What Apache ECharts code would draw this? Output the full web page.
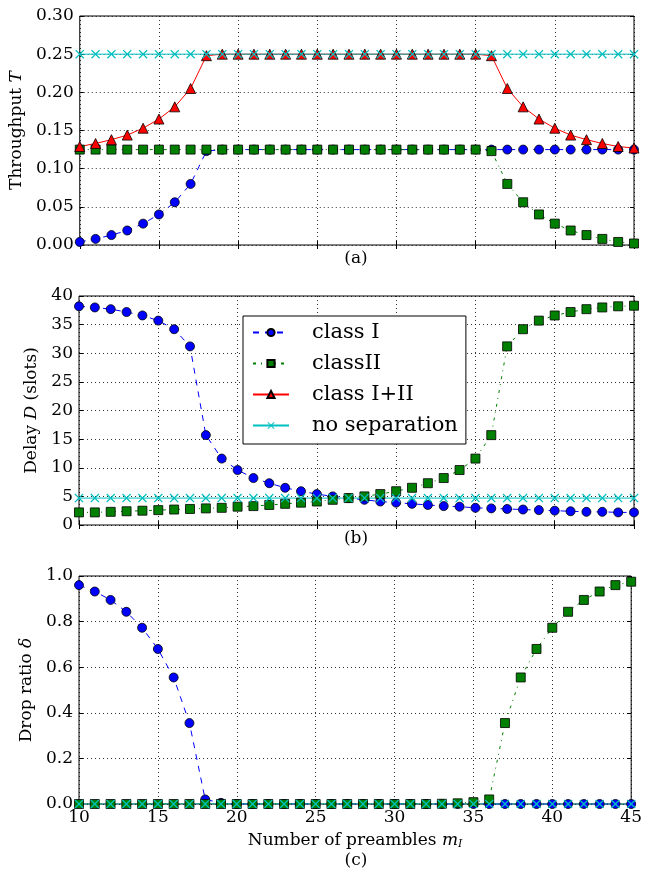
<!DOCTYPE html>
<html>
<head>
<meta charset="utf-8">
<script src="https://cdn.jsdelivr.net/npm/echarts@6/dist/echarts.min.js"></script>
<style>
  html, body { margin: 0; padding: 0; background: #fff; }
  #chart { width: 645px; height: 869px; }
</style>
</head>
<body>
<div id="chart"></div>
<script>
// number of preambles m_I
const preambles = [10, 11, 12, 13, 14, 15, 16, 17, 18, 19, 20, 21, 22, 23, 24, 25, 26, 27,
                   28, 29, 30, 31, 32, 33, 34, 35, 36, 37, 38, 39, 40, 41, 42, 43, 44, 45];

// (a) throughput
const thrClassI = [0.004, 0.008, 0.013, 0.019, 0.028, 0.040, 0.056, 0.080, 0.123, 0.125, 0.125, 0.125,
                   0.125, 0.125, 0.125, 0.125, 0.125, 0.125, 0.125, 0.125, 0.125, 0.125, 0.125, 0.125,
                   0.125, 0.125, 0.125, 0.125, 0.125, 0.125, 0.125, 0.125, 0.125, 0.125, 0.125, 0.125];
const thrClassII = [0.125, 0.125, 0.125, 0.125, 0.125, 0.125, 0.125, 0.125, 0.125, 0.125, 0.125, 0.125,
                    0.125, 0.125, 0.125, 0.125, 0.125, 0.125, 0.125, 0.125, 0.125, 0.125, 0.125, 0.125,
                    0.125, 0.125, 0.123, 0.080, 0.056, 0.040, 0.028, 0.019, 0.013, 0.008, 0.004, 0.002];
const thrClassBoth = [0.129, 0.133, 0.138, 0.144, 0.153, 0.165, 0.181, 0.205, 0.248, 0.250, 0.250, 0.250,
                      0.250, 0.250, 0.250, 0.250, 0.250, 0.250, 0.250, 0.250, 0.250, 0.250, 0.250, 0.250,
                      0.250, 0.250, 0.248, 0.205, 0.181, 0.165, 0.153, 0.144, 0.138, 0.133, 0.129, 0.127];
const thrNoSep = [0.25, 0.25, 0.25, 0.25, 0.25, 0.25, 0.25, 0.25, 0.25, 0.25, 0.25, 0.25,
                  0.25, 0.25, 0.25, 0.25, 0.25, 0.25, 0.25, 0.25, 0.25, 0.25, 0.25, 0.25,
                  0.25, 0.25, 0.25, 0.25, 0.25, 0.25, 0.25, 0.25, 0.25, 0.25, 0.25, 0.25];

// (b) delay in slots
const delClassI = [38.2, 38.0, 37.7, 37.2, 36.6, 35.7, 34.2, 31.2, 15.7, 11.6, 9.6, 8.2,
                   7.3, 6.5, 5.9, 5.4, 5.0, 4.7, 4.4, 4.1, 3.9, 3.7, 3.5, 3.3,
                   3.2, 3.0, 2.9, 2.8, 2.7, 2.6, 2.5, 2.4, 2.3, 2.3, 2.2, 2.2];
const delClassII = [2.2, 2.2, 2.3, 2.4, 2.5, 2.6, 2.7, 2.8, 2.9, 3.0, 3.2, 3.3,
                    3.5, 3.7, 3.9, 4.1, 4.4, 4.7, 5.0, 5.4, 5.9, 6.5, 7.3, 8.2,
                    9.6, 11.6, 15.7, 31.2, 34.2, 35.7, 36.6, 37.2, 37.7, 38.0, 38.2, 38.3];
const delNoSep = [4.7, 4.7, 4.7, 4.7, 4.7, 4.7, 4.7, 4.7, 4.7, 4.7, 4.7, 4.7,
                  4.7, 4.7, 4.7, 4.7, 4.7, 4.7, 4.7, 4.7, 4.7, 4.7, 4.7, 4.7,
                  4.7, 4.7, 4.7, 4.7, 4.7, 4.7, 4.7, 4.7, 4.7, 4.7, 4.7, 4.7];

// (c) drop ratio
const dropClassI = [0.960, 0.932, 0.895, 0.843, 0.773, 0.680, 0.555, 0.355, 0.020, 0.005, 0, 0,
                    0, 0, 0, 0, 0, 0, 0, 0, 0, 0, 0, 0,
                    0, 0, 0, 0, 0, 0, 0, 0, 0, 0, 0, 0];
const dropClassII = [0, 0, 0, 0, 0, 0, 0, 0, 0, 0, 0, 0,
                     0, 0, 0, 0, 0, 0, 0, 0, 0, 0, 0, 0.001,
                     0.003, 0.008, 0.020, 0.355, 0.555, 0.680, 0.773, 0.843, 0.895, 0.932, 0.960, 0.975];
const dropNoSep = [0, 0, 0, 0, 0, 0, 0, 0, 0, 0, 0, 0,
                   0, 0, 0, 0, 0, 0, 0, 0, 0, 0, 0, 0,
                   0, 0, 0, 0, 0, 0, 0, 0, 0, 0, 0, 0];

const yTicksA = [0, 0.30, 0.05];
const yTicksB = [0, 40, 5];
const yTicksC = [0, 1.0, 0.2];

const FONT = 'DejaVu Serif';
const FS = 17;
const BLUE = '#0000ff', GREEN = '#008000', RED = '#ff0000', CYAN = '#00bfbf';
const X_MARK = 'path://M0,1L1,0L5,4L9,0L10,1L6,5L10,9L9,10L5,6L1,10L0,9L4,5Z';

const pairs = arr => preambles.map((x, i) => [x, arr[i]]);

function classI(arr, idx) {
    return {
        name: 'class I', type: 'line', xAxisIndex: idx, yAxisIndex: idx,
        data: pairs(arr), symbol: 'circle', symbolSize: 9,
        itemStyle: { color: BLUE, borderColor: '#000', borderWidth: 0.8 },
        lineStyle: { color: BLUE, width: 1, type: [6, 6] }
    };
}
function classII(arr, idx) {
    return {
        name: 'classII', type: 'line', xAxisIndex: idx, yAxisIndex: idx,
        data: pairs(arr), symbol: 'rect', symbolSize: 9,
        itemStyle: { color: GREEN, borderColor: '#000', borderWidth: 0.8 },
        lineStyle: { color: GREEN, width: 1, type: [3, 5, 1, 5] }
    };
}
function classBoth(arr, idx) {
    return {
        name: 'class I+II', type: 'line', xAxisIndex: idx, yAxisIndex: idx,
        data: pairs(arr), symbol: 'triangle', symbolSize: 10,
        itemStyle: { color: RED, borderColor: '#000', borderWidth: 0.8 },
        lineStyle: { color: RED, width: 1 }
    };
}
function noSep(arr, idx) {
    return {
        name: 'no separation', type: 'line', xAxisIndex: idx, yAxisIndex: idx,
        data: pairs(arr), symbol: X_MARK, symbolSize: 9,
        itemStyle: { color: CYAN },
        lineStyle: { color: CYAN, width: 1 }
    };
}

const gridLine = { show: true, lineStyle: { color: '#000', width: 0.8, type: [1, 3] } };
const inTick = { show: true, inside: true, length: 4, lineStyle: { color: '#000' } };

function xAxis(idx, showLabels) {
    return {
        type: 'value', gridIndex: idx, min: 10, max: 45, interval: 5,
        axisLine: { show: false },
        axisTick: inTick,
        axisLabel: { show: showLabels, fontFamily: FONT, fontSize: FS, color: '#000', margin: 5 },
        splitLine: gridLine
    };
}
// mirror ticks on the top / right edges
function xTop(idx) {
    return {
        type: 'value', gridIndex: idx, min: 10, max: 45, interval: 5, position: 'top',
        axisLine: { show: false }, axisTick: inTick, axisLabel: { show: false }, splitLine: { show: false }
    };
}
function yAxis(idx, ticks, decimals, name, gap) {
    return {
        type: 'value', gridIndex: idx, min: ticks[0], max: ticks[1], interval: ticks[2],
        name: name, nameLocation: 'middle', nameGap: gap, nameRotate: 90,
        nameTextStyle: {
            fontFamily: FONT, fontSize: FS, color: '#000',
            rich: { i: { fontFamily: FONT, fontStyle: 'italic', fontSize: FS, color: '#000' } }
        },
        axisLine: { show: false },
        axisTick: inTick,
        axisLabel: {
            fontFamily: FONT, fontSize: FS, color: '#000', margin: 6,
            formatter: v => v.toFixed(decimals)
        },
        splitLine: gridLine
    };
}
function yRight(idx, ticks) {
    return {
        type: 'value', gridIndex: idx, min: ticks[0], max: ticks[1], interval: ticks[2], position: 'right',
        axisLine: { show: false }, axisTick: inTick, axisLabel: { show: false }, splitLine: { show: false }
    };
}

const gridBox = { show: true, borderColor: '#000', borderWidth: 1, backgroundColor: 'transparent' };
const titleText = { fontFamily: FONT, fontSize: FS, fontWeight: 'normal', color: '#000' };

const chart = echarts.init(document.getElementById('chart'), null, { renderer: 'canvas' });
chart.setOption({
    backgroundColor: '#fff',
    animation: false,
    textStyle: { fontFamily: FONT },
    grid: [
        Object.assign({ left: 79, right: 11, top: 16, height: 229 }, gridBox),
        Object.assign({ left: 79, right: 11, top: 296, height: 229 }, gridBox),
        Object.assign({ left: 79, right: 11, top: 576, height: 228 }, gridBox)
    ],
    title: [
        { text: '(a)', left: 356, top: 250, textAlign: 'center', padding: 0, textStyle: titleText },
        { text: '(b)', left: 356, top: 530, textAlign: 'center', padding: 0, textStyle: titleText },
        { text: '(c)', left: 356, top: 852, textAlign: 'center', padding: 0, textStyle: titleText }
    ],
    legend: {
        data: ['class I', 'classII', 'class I+II', 'no separation'],
        orient: 'vertical', left: 243, top: 316,
        itemWidth: 36, itemHeight: 9, itemGap: 10,
        padding: [6, 8, 8, 9],
        backgroundColor: '#fff', borderColor: '#000', borderWidth: 1, borderRadius: 0,
        textStyle: { fontFamily: FONT, fontSize: 21, color: '#000', padding: [0, 0, 0, 18] }
    },
    xAxis: [
        xAxis(0, false),
        xAxis(1, false),
        Object.assign(xAxis(2, true), {
            name: 'Number of preambles {m|m}{s|I}', nameLocation: 'middle', nameGap: 27,
            nameTextStyle: {
                fontFamily: FONT, fontSize: FS, color: '#000',
                rich: {
                    m: { fontFamily: FONT, fontStyle: 'italic', fontSize: FS, color: '#000' },
                    s: { fontFamily: FONT, fontStyle: 'italic', fontSize: 11, color: '#000', padding: [8, 0, 0, 0] }
                }
            }
        }),
        xTop(0), xTop(1), xTop(2)
    ],
    yAxis: [
        yAxis(0, yTicksA, 2, 'Throughput {i|T}', 54),
        yAxis(1, yTicksB, 0, 'Delay {i|D} (slots)', 34),
        yAxis(2, yTicksC, 1, 'Drop ratio {i|δ}', 41),
        yRight(0, yTicksA), yRight(1, yTicksB), yRight(2, yTicksC)
    ],
    series: [
        classI(thrClassI, 0), classII(thrClassII, 0), classBoth(thrClassBoth, 0), noSep(thrNoSep, 0),
        classI(delClassI, 1), classII(delClassII, 1), noSep(delNoSep, 1),
        classI(dropClassI, 2), classII(dropClassII, 2), noSep(dropNoSep, 2)
    ]
});
</script>
</body>
</html>
